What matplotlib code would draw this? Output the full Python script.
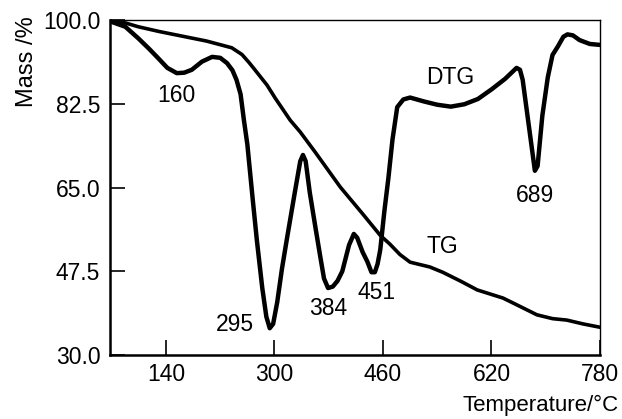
import matplotlib
matplotlib.use("Agg")
from matplotlib import pyplot as plt

# DTG trace (temperature in degC, plotted on the mass scale)
dtg_temp = [60, 80, 99, 115, 128, 142, 156, 167, 178, 193, 208, 220, 230, 238, 244, 250,
            255, 260, 268, 274, 282, 288, 293, 298, 304, 311, 318, 330, 338, 342, 346, 352,
            360, 367, 373, 379, 386, 393, 400, 410, 417, 422, 430, 437, 443, 448, 452, 456,
            462, 468, 474, 481, 490, 500, 520, 540, 560, 580, 600, 620, 640, 657, 662, 666,
            675, 684, 688, 695, 703, 710, 718, 726, 732, 740, 750, 765, 780]
dtg_val = [99.6, 98.6, 96.2, 94.0, 92.1, 90.0, 88.9, 89.0, 89.6, 91.3, 92.3, 92.1, 91.0, 89.5,
           87.5, 84.5, 79.0, 74.0, 62.4, 54.0, 44.0, 38.0, 35.6, 36.5, 41.0, 48.0, 54.0, 64.0,
           70.5, 71.8, 70.5, 64.0, 57.0, 51.0, 46.0, 44.0, 44.3, 45.5, 47.5, 53.0, 55.3, 54.5,
           51.5, 49.5, 47.3, 47.3, 49.0, 52.0, 60.0, 67.0, 75.0, 81.8, 83.4, 83.8, 83.0, 82.3,
           81.9, 82.4, 83.5, 85.5, 87.7, 90.0, 89.6, 87.5, 78.0, 68.5, 69.5, 80.0, 88.0, 92.7,
           94.5, 96.5, 97.0, 96.8, 95.8, 95.0, 94.8]

# TG trace (mass %)
tg_temp = [58, 80, 99, 130, 172, 200, 237, 252, 262, 270, 289, 301, 323, 338, 360, 397,
           430, 456, 470, 485, 500, 529, 548, 575, 599, 637, 660, 687, 710, 731, 755, 780]
tg_mass = [100.0, 99.4, 98.6, 97.6, 96.4, 95.6, 94.2, 92.8, 91.2, 89.8, 86.4, 83.7, 79.1,
           76.6, 72.4, 65.1, 59.5, 55.0, 53.2, 51.0, 49.4, 48.4, 47.3, 45.4, 43.6, 41.9,
           40.3, 38.4, 37.6, 37.3, 36.5, 35.8]

# peak annotations: text, x, y
peak_labels = ["160", "295", "384", "451", "689", "DTG", "TG"]
peak_x = [156, 242, 379, 451, 684, 559, 547]
peak_y = [84.3, 36.3, 39.8, 43.0, 63.4, 87.9, 52.6]

x_ticks = [140, 300, 460, 620, 780]
y_ticks = [30.0, 47.5, 65.0, 82.5, 100.0]

plt.rcParams['font.family'] = ['Liberation Sans', 'DejaVu Sans']

fig = plt.figure(figsize=(6.22, 4.19), dpi=100)
ax = fig.add_axes([0.1768, 0.1527, 0.7878, 0.7995])

ax.plot(dtg_temp, dtg_val, color='black', lw=3.2, solid_joinstyle='round', solid_capstyle='round')
ax.plot(tg_temp, tg_mass, color='black', lw=2.6, solid_joinstyle='round', solid_capstyle='round')

for txt, x, y in zip(peak_labels, peak_x, peak_y):
    ax.text(x, y, txt, fontsize=16.5, ha='center', va='center')

ax.set_xlim(57.4, 780)
ax.set_ylim(30, 100)
ax.set_xticks(x_ticks)
ax.set_yticks(y_ticks)
ax.set_yticklabels(["{:.1f}".format(v) for v in y_ticks])
ax.tick_params(direction='in', length=11, width=1.2, labelsize=16.5)
ax.tick_params(axis='x', pad=6)
ax.tick_params(axis='y', pad=7)

for side in ['left', 'bottom']:
    ax.spines[side].set_linewidth(1.8)
for side in ['top', 'right']:
    ax.spines[side].set_linewidth(1.0)

fig.text(27 / 622, 0.852, "Mass /%", rotation=90, fontsize=17, ha='center', va='center')
fig.text(619 / 622, 0.033, "Temperature/°C", fontsize=16, ha='right', va='center')

fig.savefig("out.png", dpi=100)
